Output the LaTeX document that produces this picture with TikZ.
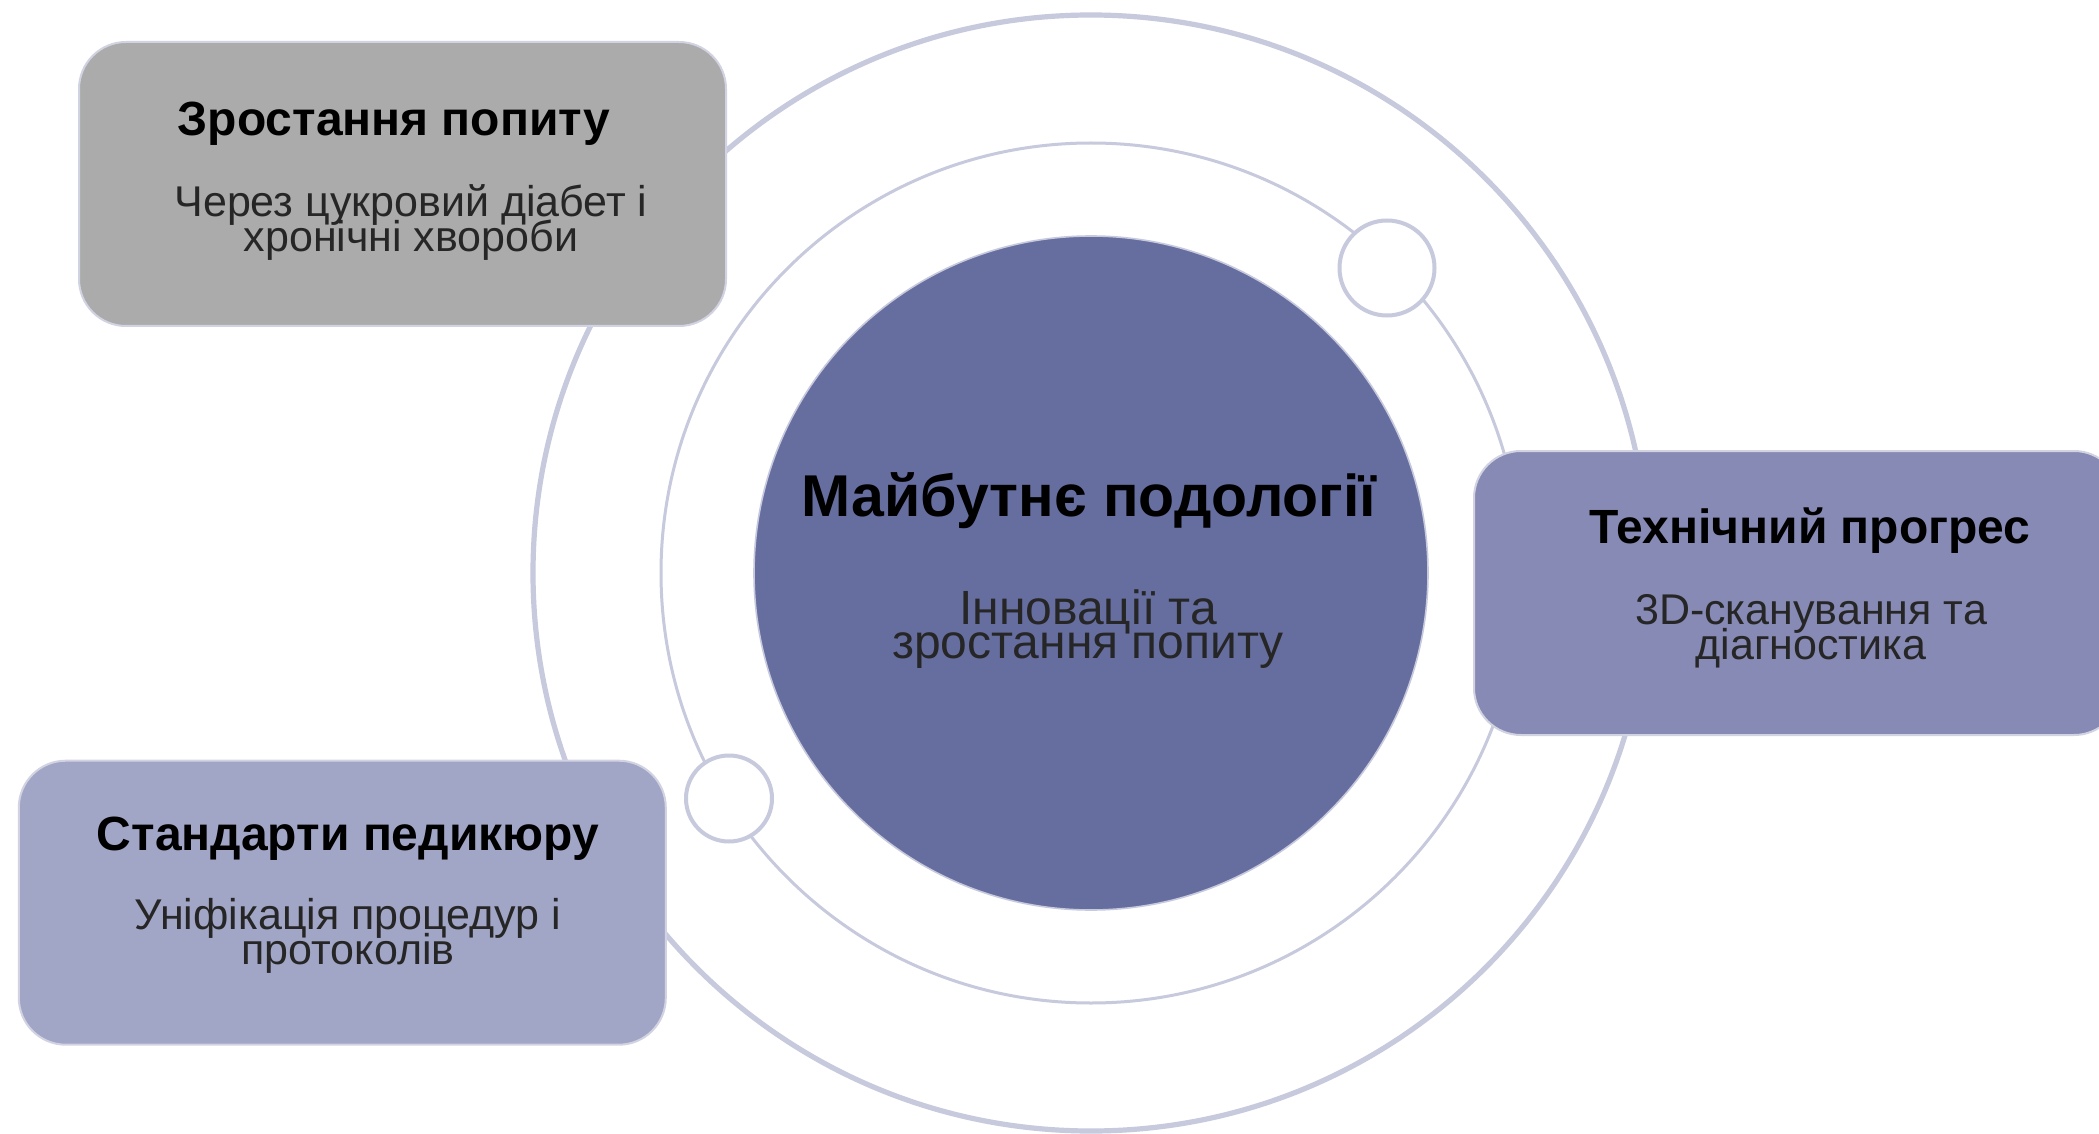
\documentclass[tikz,border=0pt]{standalone}
\usepackage{fontspec}
\setmainfont{Liberation Sans}
\definecolor{orbit}{HTML}{C7C9DD}
\definecolor{boxedge}{HTML}{D2D3E2}
\definecolor{grayfill}{HTML}{ABABAB}
\definecolor{techfill}{HTML}{868AB4}
\definecolor{stdfill}{HTML}{A2A6C6}
\definecolor{corefill}{HTML}{666EA0}
\definecolor{subtxt}{HTML}{262626}
\begin{document}
\begin{tikzpicture}[x=0.5pt,y=-0.5pt,
  card/.style={rectangle, rounded corners=23.5pt, draw=boxedge, line width=1pt,
    minimum width=323.5pt, minimum height=142pt, inner sep=0pt},
  dot/.style={circle, draw=orbit, line width=2pt, fill=white, inner sep=0pt},
  ttl/.style={anchor=base, inner sep=0pt, font=\bfseries\fontsize{24}{28}\selectfont, text=black},
  sub/.style={anchor=base, inner sep=0pt, font=\fontsize{21.5}{25}\selectfont, text=subtxt},
  cttl/.style={anchor=base, inner sep=0pt, font=\bfseries\fontsize{29.5}{34}\selectfont, text=black},
  csub/.style={anchor=base, inner sep=0pt, font=\fontsize{24}{28}\selectfont, text=subtxt},
]
\useasboundingbox (0,0) rectangle (2099,1134);
\clip (0,0) rectangle (2099,1134);
\fill[white] (0,0) rectangle (2099,1134);
\coordinate (c) at (1091,573);
\draw[orbit, line width=2.6pt] (c) circle[radius=558];
\draw[orbit, line width=1.5pt] (c) circle[radius=430];
\node[circle, fill=corefill, draw=orbit, line width=0.8pt, minimum size=337pt, inner sep=0pt] (core) at (c) {};
\node[dot, minimum size=47.5pt] (d1) at (1387,268) {};
\node[dot, minimum size=43pt] (d2) at (729,798.5) {};
\node[card, fill=grayfill] (b1) at (402.5,184) {};
\node[card, fill=techfill] (b2) at (1797.5,593) {};
\node[card, fill=stdfill] (b3) at (342.3,902.7) {};
% center
\node[cttl] (ct) at (1089,516) {Майбутнє подології};
\node[csub] (cs1) at (1088,624) {Інновації та};
\node[csub] (cs2) at (1088,658) {зростання попиту};
% box 1
\node[ttl] (t1) at (394,136) {Зростання попиту};
\node[sub] (s1a) at (411,217) {Через цукровий діабет і};
\node[sub] (s1b) at (411,252) {хронічні хвороби};
% box 2
\node[ttl] (t2) at (1810,543) {Технічний прогрес};
\node[sub] (s2a) at (1811,624) {3D-сканування та};
\node[sub] (s2b) at (1811,659) {діагностика};
% box 3
\node[ttl] (t3) at (348,850) {Стандарти педикюру};
\node[sub] (s3a) at (348,929) {Уніфікація процедур і};
\node[sub] (s3b) at (348,964) {протоколів};
\end{tikzpicture}
\end{document}
